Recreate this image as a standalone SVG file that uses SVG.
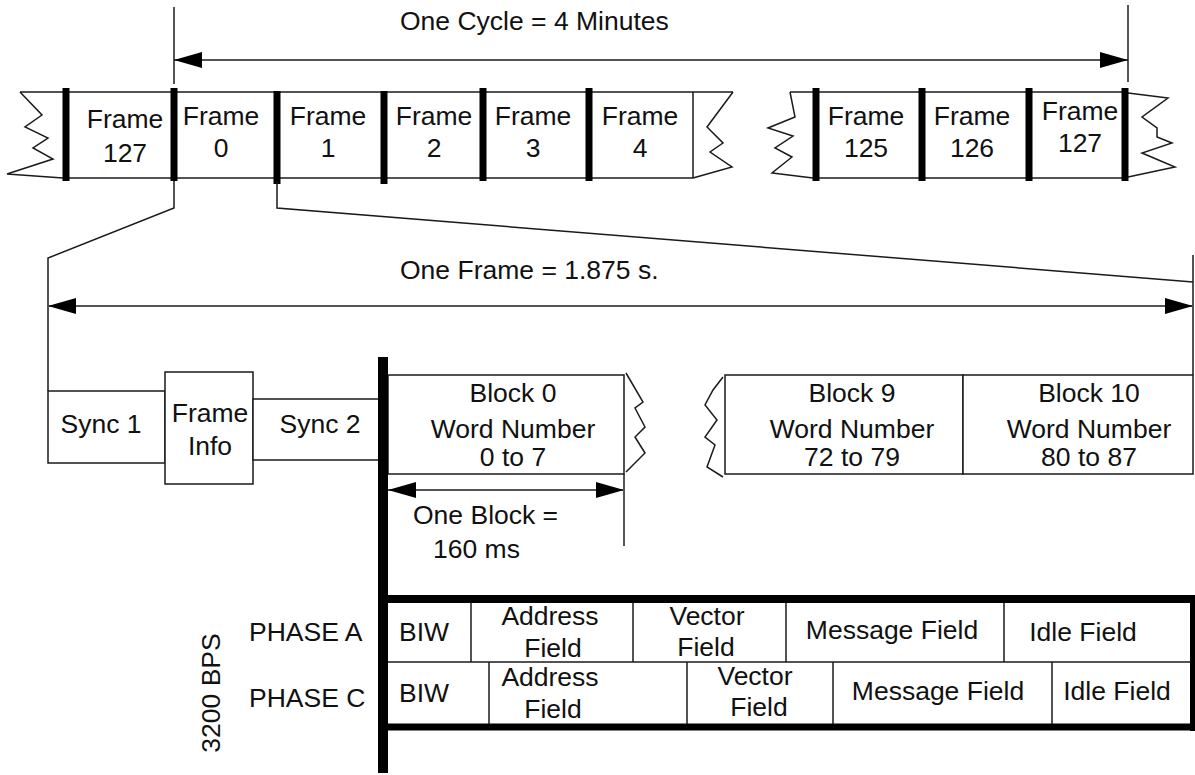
<svg xmlns="http://www.w3.org/2000/svg" width="1195" height="775" viewBox="0 0 1195 775">
  <style>
    text { font-family: "Liberation Sans", Arial, Helvetica, sans-serif; font-size: 26.5px; fill: #111; }
    .c { text-anchor: middle; }
    .thin { fill: none; stroke: #1a1a1a; stroke-width: 1.5; }
    .gray { fill: none; stroke: #555; stroke-width: 2; }
    .box { fill: #fff; stroke: #1a1a1a; stroke-width: 1.5; }
    .bar { fill: #000; }
  </style>
  <defs>
    <marker id="arrow" markerUnits="userSpaceOnUse" markerWidth="30" markerHeight="18" refX="28" refY="8" orient="auto-start-reverse">
      <path d="M0,0 L28,8 L0,16 z" fill="#000"/>
    </marker>
  </defs>

  <rect width="1195" height="775" fill="#fff"/>

  <!-- frame strip: frames 127..4 -->
  <g id="strip-left">
    <polyline class="thin" points="20,92 42,115 25,127 48,138 33,148 53,159 7,174 63,178"/>
    <line class="thin" x1="20" y1="92" x2="733" y2="92"/>
    <line class="gray" x1="63" y1="178" x2="693" y2="178"/>
    <line class="thin" x1="693" y1="92" x2="693" y2="178"/>
    <polyline class="thin" points="733,92 707,127 723,143 710,152 732,167 693,178"/>
    <rect class="bar" x="62.5" y="88" width="7" height="93"/>
    <rect class="bar" x="170.5" y="88" width="7" height="93"/>
    <rect class="bar" x="273.5" y="91" width="7" height="93"/>
    <rect class="bar" x="380.5" y="91" width="7" height="93"/>
    <rect class="bar" x="479.5" y="88" width="7" height="93"/>
    <rect class="bar" x="585.5" y="88" width="7" height="93"/>
  </g>
  <g id="frame-127a"><text class="c" x="125" y="128">Frame</text><text class="c" x="125" y="162">127</text></g>
  <g id="frame-0"><text class="c" x="221" y="125">Frame</text><text class="c" x="221" y="157">0</text></g>
  <g id="frame-1"><text class="c" x="328" y="125">Frame</text><text class="c" x="328" y="157">1</text></g>
  <g id="frame-2"><text class="c" x="434" y="125">Frame</text><text class="c" x="434" y="157">2</text></g>
  <g id="frame-3"><text class="c" x="533" y="125">Frame</text><text class="c" x="533" y="157">3</text></g>
  <g id="frame-4"><text class="c" x="640" y="125">Frame</text><text class="c" x="640" y="157">4</text></g>

  <!-- frame strip: frames 125..127 -->
  <g id="strip-right">
    <polyline class="thin" points="790,92 795,117 768,128 793,136 775,148 792,157 772,173 813,178"/>
    <line class="thin" x1="790" y1="92" x2="1128" y2="92"/>
    <line class="thin" x1="813" y1="178" x2="1128" y2="178"/>
    <polyline class="thin" points="1128,93 1168,98 1142,117 1157,128 1157,137 1172,143 1142,153 1175,167 1128,177"/>
    <rect class="bar" x="812.5" y="88" width="7" height="93"/>
    <rect class="bar" x="918.5" y="88" width="7" height="93"/>
    <rect class="bar" x="1025.5" y="88" width="7" height="93"/>
    <rect class="bar" x="1121.5" y="88" width="7" height="93"/>
  </g>
  <g id="frame-125"><text class="c" x="866" y="125">Frame</text><text class="c" x="866" y="157">125</text></g>
  <g id="frame-126"><text class="c" x="972" y="125">Frame</text><text class="c" x="972" y="157">126</text></g>
  <g id="frame-127b"><text class="c" x="1080" y="120">Frame</text><text class="c" x="1080" y="152">127</text></g>

  <!-- dimension lines and expansion lines -->
  <g id="connectors">
    <line class="thin" x1="174" y1="7" x2="174" y2="84"/>
    <line class="gray" x1="1128" y1="5" x2="1128" y2="82"/>
    <line class="thin" x1="174" y1="60" x2="1128" y2="60" marker-start="url(#arrow)" marker-end="url(#arrow)"/>

    <polyline class="thin" points="174,181 174,208 48,258 48,391"/>
    <polyline class="thin" points="277,181 277,208 1193,282"/>
    <line class="thin" x1="1193" y1="255" x2="1193" y2="375"/>
    <line class="gray" x1="48" y1="306" x2="1193" y2="306" marker-start="url(#arrow)" marker-end="url(#arrow)"/>

    <line class="thin" x1="388" y1="490" x2="624" y2="490" marker-start="url(#arrow)" marker-end="url(#arrow)"/>
    <line class="gray" x1="624" y1="474" x2="624" y2="546"/>
  </g>
  <g id="labels">
    <text x="400" y="30">One Cycle = 4 Minutes</text>
    <text x="400" y="279">One Frame = 1.875 s.</text>
    <text x="413" y="524">One Block =</text>
    <text x="433" y="558">160 ms</text>
  </g>

  <!-- frame contents -->
  <g id="sync-1"><rect class="box" x="48" y="391" width="117" height="72"/><text class="c" x="101" y="433">Sync 1</text></g>
  <g id="frame-info"><rect class="box" x="165" y="372" width="88" height="112"/><text class="c" x="210" y="422">Frame</text><text class="c" x="210" y="455">Info</text></g>
  <g id="sync-2"><rect class="box" x="253" y="399" width="127" height="61"/><text class="c" x="320" y="433">Sync 2</text></g>

  <g id="block-0">
    <rect class="box" x="388" y="375" width="236" height="99"/>
    <polyline class="thin" points="626,373 643,402 635,408 645,427 635,437 645,453 626,472"/>
    <text class="c" x="513" y="402">Block 0</text>
    <text class="c" x="513" y="438">Word Number</text>
    <text class="c" x="513" y="466">0 to 7</text>
  </g>
  <g id="block-9">
    <polyline class="thin" points="723,377 713,390 705,405 717,420 705,437 715,445 707,467 723,477"/>
    <rect class="box" x="725" y="375" width="238" height="99"/>
    <text class="c" x="852" y="402">Block 9</text>
    <text class="c" x="852" y="438">Word Number</text>
    <text class="c" x="852" y="466">72 to 79</text>
  </g>
  <g id="block-10">
    <rect class="box" x="963" y="375" width="230" height="99"/>
    <text class="c" x="1089" y="402">Block 10</text>
    <text class="c" x="1089" y="438">Word Number</text>
    <text class="c" x="1089" y="466">80 to 87</text>
  </g>

  <!-- 3200 BPS block structure -->
  <g id="phase-frame">
    <line class="thin" x1="388" y1="662" x2="1192" y2="662"/>
    <line x1="388" y1="599" x2="1195" y2="599" stroke="#000" stroke-width="8"/>
    <line x1="388" y1="727" x2="1195" y2="727" stroke="#000" stroke-width="7"/>
    <line x1="1192.5" y1="595" x2="1192.5" y2="731" stroke="#000" stroke-width="5"/>
    <rect class="bar" x="378" y="357" width="10" height="416"/>
    <text transform="translate(220,693) rotate(-90)" class="c">3200 BPS</text>
  </g>
  <g id="phase-a">
    <text x="249" y="641">PHASE A</text>
    <line class="thin" x1="471" y1="603" x2="471" y2="662"/>
    <line class="thin" x1="633" y1="603" x2="633" y2="662"/>
    <line class="thin" x1="786" y1="603" x2="786" y2="662"/>
    <line class="thin" x1="1004" y1="603" x2="1004" y2="662"/>
    <text class="c" x="424" y="641">BIW</text>
    <text class="c" x="550" y="625">Address</text><text class="c" x="553" y="657">Field</text>
    <text class="c" x="707" y="625">Vector</text><text class="c" x="706" y="656">Field</text>
    <text class="c" x="892" y="639">Message Field</text>
    <text class="c" x="1083" y="641">Idle Field</text>
  </g>
  <g id="phase-c">
    <text x="249" y="707">PHASE C</text>
    <line class="thin" x1="489" y1="662" x2="489" y2="724"/>
    <line class="thin" x1="687" y1="662" x2="687" y2="724"/>
    <line class="thin" x1="833" y1="662" x2="833" y2="724"/>
    <line class="thin" x1="1052" y1="662" x2="1052" y2="724"/>
    <text class="c" x="424" y="702">BIW</text>
    <text class="c" x="550" y="686">Address</text><text class="c" x="553" y="718">Field</text>
    <text class="c" x="755" y="685">Vector</text><text class="c" x="759" y="716">Field</text>
    <text class="c" x="938" y="700">Message Field</text>
    <text class="c" x="1117" y="700">Idle Field</text>
  </g>
</svg>
